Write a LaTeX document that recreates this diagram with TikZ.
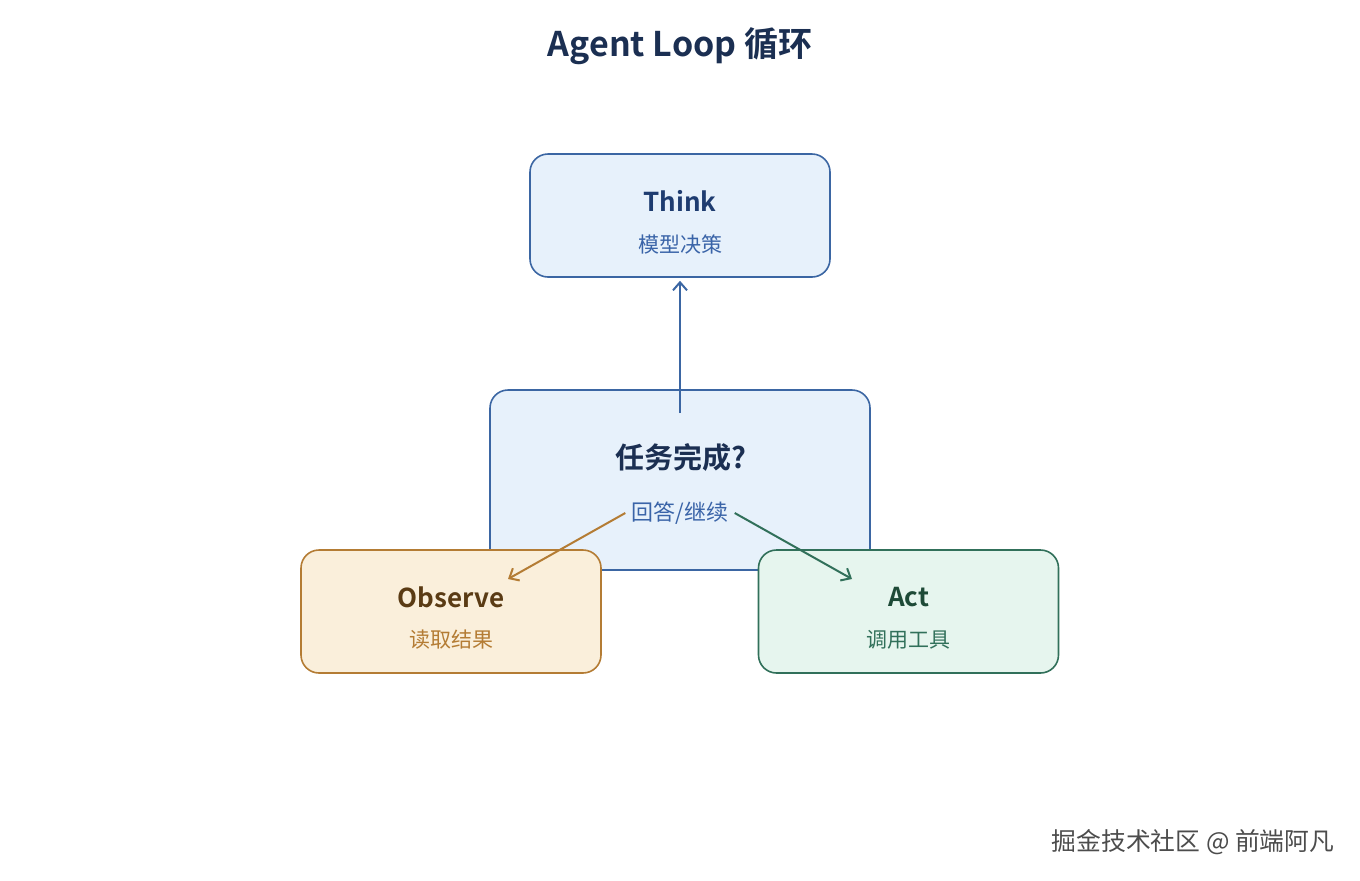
\documentclass[tikz,border=0pt]{standalone}
\usepackage{fontspec}
\setmainfont{Noto Sans CJK SC}[BoldFont={Noto Sans CJK SC Bold}]
\usetikzlibrary{positioning,arrows.meta}

\definecolor{headcol}{HTML}{1B2F52}
\definecolor{blueline}{HTML}{3B66A3}
\definecolor{bluefill}{HTML}{E7F1FB}
\definecolor{bluetext}{HTML}{1E3C70}
\definecolor{bluesub}{HTML}{3A64A8}
\definecolor{goldline}{HTML}{B47C34}
\definecolor{goldfill}{HTML}{FAEFDB}
\definecolor{goldtext}{HTML}{5A3B14}
\definecolor{greenline}{HTML}{31705A}
\definecolor{greenfill}{HTML}{E6F5EE}
\definecolor{greentext}{HTML}{1E4A37}

\tikzset{
  box/.style={draw, line width=0.8pt, rounded corners=9pt,
    minimum width=150pt, minimum height=61.5pt},
  boxtitle/.style={font=\bfseries\fontsize{13}{15}\selectfont, inner sep=0pt},
  boxsub/.style={font=\fontsize{10.5}{12}\selectfont, inner sep=0pt},
  flow/.style={line width=1pt, -{Straight Barb[length=4pt,width=7pt]}}
}

\begin{document}
\begin{tikzpicture}[x=0.5pt, y=-0.5pt]
        \useasboundingbox (0,0) rectangle (1360,880);

        \node[font=\bfseries\fontsize{17}{20}\selectfont, text=headcol] (head) at (680,46) {Agent Loop 循环};

        % center decision box
        \node[box, draw=blueline, fill=bluefill, minimum width=190pt, minimum height=90pt] (done) at (680,480) {};
        \node[boxtitle, text=headcol, font=\bfseries\fontsize{14.5}{16}\selectfont] (doneT) at (681,457) {任务完成?};
        \node[boxsub, text=bluesub, font=\fontsize{11}{13}\selectfont] (doneS) at (680,513) {回答/继续};

        % think
        \node[box, draw=blueline, fill=bluefill] (think) at (680,215.5) {};
        \node[boxtitle, text=bluetext] (thinkT) at (680,201) {Think};
        \node[boxsub, text=bluesub] (thinkS) at (680,244) {模型决策};

        % observe
        \node[box, draw=goldline, fill=goldfill] (obs) at (451,611.5) {};
        \node[boxtitle, text=goldtext] (obsT) at (451,597) {Observe};
        \node[boxsub, text=goldline] (obsS) at (451,640) {读取结果};

        % act
        \node[box, draw=greenline, fill=greenfill] (act) at (908.5,611.5) {};
        \node[boxtitle, text=greentext] (actT) at (908.5,597) {Act};
        \node[boxsub, text=greenline] (actS) at (908.5,640) {调用工具};

        \coordinate (upfrom) at (680,413);
        \coordinate (obsin) at (508,579);
        \coordinate (actin) at (852,579);

        \draw[flow, blueline] (upfrom) -- ([yshift=-1.5pt]think.south);
        \draw[flow, goldline] ([xshift=-3pt]doneS.west) -- (obsin);
        \draw[flow, greenline] ([xshift=3pt]doneS.east) -- (actin);

        \node[font=\fontsize{12.4}{14}\selectfont, text=gray!60!black] (mark) at (1193,842) {掘金技术社区 @ 前端阿凡};
    \end{tikzpicture}
\end{document}
